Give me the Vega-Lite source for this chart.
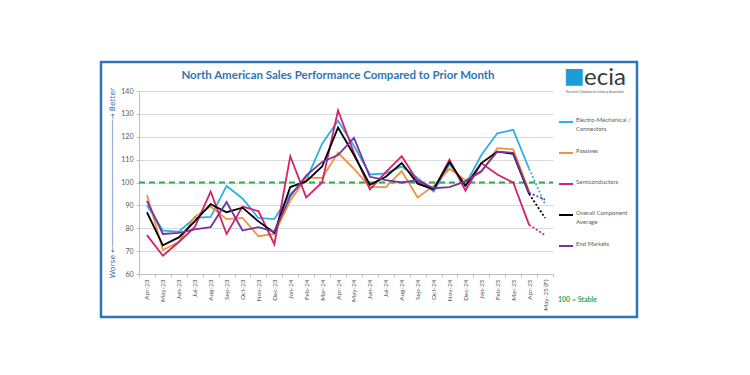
{
  "$schema": "https://vega.github.io/schema/vega-lite/v6.json",
  "width": 536,
  "height": 255,
  "autosize": "none",
  "padding": {"left": 101, "top": 62, "right": 113, "bottom": 58},
  "background": "white",
  "config": {
    "view": {"stroke": "#2E75B6", "strokeWidth": 2.5},
    "font": "Lato",
    "axis": {"labelOverlap": false},
    "style": {"guide-label": {"lineHeight": 9}}
  },
  "title": {
    "text": "North American Sales Performance Compared to Prior Month",
    "font": "Lato",
    "fontSize": 11.5,
    "fontWeight": "bold",
    "color": "#2E75B6",
    "anchor": "middle",
    "frame": "group",
    "offset": -19,
    "dx": -31
  },
  "datasets": {
    "actual": [
      {"month": "Apr-23", "Electro-Mechanical / Connectors": 90, "Passives": 94.5, "Semiconductors": 77, "Overall Component Average": 87, "End Markets": 92},
      {"month": "May-23", "Electro-Mechanical / Connectors": 79, "Passives": 70.5, "Semiconductors": 68, "Overall Component Average": 72.5, "End Markets": 77.5},
      {"month": "Jun-23", "Electro-Mechanical / Connectors": 78.5, "Passives": 74, "Semiconductors": 74, "Overall Component Average": 76, "End Markets": 78},
      {"month": "Jul-23", "Electro-Mechanical / Connectors": 84.5, "Passives": 85, "Semiconductors": 80.5, "Overall Component Average": 83, "End Markets": 79.5},
      {"month": "Aug-23", "Electro-Mechanical / Connectors": 85, "Passives": 89.5, "Semiconductors": 96, "Overall Component Average": 90.5, "End Markets": 80.5},
      {"month": "Sep-23", "Electro-Mechanical / Connectors": 98.5, "Passives": 84, "Semiconductors": 77.5, "Overall Component Average": 87, "End Markets": 91.5},
      {"month": "Oct-23", "Electro-Mechanical / Connectors": 93, "Passives": 84.5, "Semiconductors": 89.5, "Overall Component Average": 89, "End Markets": 79},
      {"month": "Nov-23", "Electro-Mechanical / Connectors": 84.5, "Passives": 76.5, "Semiconductors": 87.5, "Overall Component Average": 83, "End Markets": 80.5},
      {"month": "Dec-23", "Electro-Mechanical / Connectors": 84, "Passives": 77.5, "Semiconductors": 73, "Overall Component Average": 78, "End Markets": 78.5},
      {"month": "Jan-24", "Electro-Mechanical / Connectors": 95, "Passives": 92, "Semiconductors": 111.5, "Overall Component Average": 98, "End Markets": 94},
      {"month": "Feb-24", "Electro-Mechanical / Connectors": 101, "Passives": 102, "Semiconductors": 93.5, "Overall Component Average": 100.5, "End Markets": 103},
      {"month": "Mar-24", "Electro-Mechanical / Connectors": 117, "Passives": 102, "Semiconductors": 100, "Overall Component Average": 107, "End Markets": 109},
      {"month": "Apr-24", "Electro-Mechanical / Connectors": 127, "Passives": 113, "Semiconductors": 131.5, "Overall Component Average": 124, "End Markets": 112},
      {"month": "May-24", "Electro-Mechanical / Connectors": 116, "Passives": 106, "Semiconductors": 113, "Overall Component Average": 112, "End Markets": 119.5},
      {"month": "Jun-24", "Electro-Mechanical / Connectors": 103.5, "Passives": 98, "Semiconductors": 97, "Overall Component Average": 99, "End Markets": 102.5},
      {"month": "Jul-24", "Electro-Mechanical / Connectors": 104, "Passives": 98, "Semiconductors": 104.5, "Overall Component Average": 102.5, "End Markets": 101},
      {"month": "Aug-24", "Electro-Mechanical / Connectors": 107, "Passives": 105, "Semiconductors": 111.5, "Overall Component Average": 108.5, "End Markets": 100},
      {"month": "Sep-24", "Electro-Mechanical / Connectors": 102, "Passives": 93.5, "Semiconductors": 100.5, "Overall Component Average": 99.5, "End Markets": 101},
      {"month": "Oct-24", "Electro-Mechanical / Connectors": 96, "Passives": 98.5, "Semiconductors": 97, "Overall Component Average": 97, "End Markets": 97.5},
      {"month": "Nov-24", "Electro-Mechanical / Connectors": 108, "Passives": 106, "Semiconductors": 110, "Overall Component Average": 109, "End Markets": 98},
      {"month": "Dec-24", "Electro-Mechanical / Connectors": 99, "Passives": 101, "Semiconductors": 96.5, "Overall Component Average": 98.5, "End Markets": 100.5},
      {"month": "Jan-25", "Electro-Mechanical / Connectors": 112, "Passives": 104.5, "Semiconductors": 108.5, "Overall Component Average": 108.5, "End Markets": 105},
      {"month": "Feb-25", "Electro-Mechanical / Connectors": 121.5, "Passives": 115, "Semiconductors": 103.5, "Overall Component Average": 113.5, "End Markets": 113.5},
      {"month": "Mar-25", "Electro-Mechanical / Connectors": 123, "Passives": 114.5, "Semiconductors": 100, "Overall Component Average": 112.5, "End Markets": 113},
      {"month": "Apr-25", "Electro-Mechanical / Connectors": 106, "Passives": 96, "Semiconductors": 81.5, "Overall Component Average": 95, "End Markets": 95.5}
    ],
    "forecast": [
      {"month": "Apr-25", "Electro-Mechanical / Connectors": 106, "Semiconductors": 81.5, "Overall Component Average": 95, "End Markets": 95.5},
      {"month": "May-25 (F)", "Electro-Mechanical / Connectors": 90.5, "Semiconductors": 77, "Overall Component Average": 84.5, "End Markets": 92.5}
    ],
    "logo": [{"name": "ecia", "icon": "■", "tagline": "Electronic Components Industry Association", "anchorMonth": "May-25 (F)", "anchorValue": 140}]
  },
  "encoding": {
    "y": {
      "field": "value",
      "type": "quantitative",
      "scale": {"domain": [60, 140], "range": [212, 29], "nice": false, "zero": false},
      "axis": {
        "title": "Worse ←────────────────────────────→ Better",
        "values": [60, 70, 80, 90, 100, 110, 120, 130, 140],
        "offset": -38,
        "grid": true,
        "gridColor": "#D9D9D9",
        "domainColor": "#BFBFBF",
        "tickColor": "#BFBFBF",
        "tickSize": 3,
        "labelFontSize": 7,
        "labelColor": "#595959",
        "labelPadding": 3,
        "labelOverlap": false,
        "titleFont": "DejaVu Sans",
        "titleFontSize": 7.5,
        "titleFontWeight": "normal",
        "titleColor": "#2E75B6",
        "titlePadding": 4
      }
    }
  },
  "layer": [
    {
      "data": {"values": [{"value": 100}]},
      "mark": {"type": "rule", "color": "#2EAA4F", "strokeWidth": 2, "strokeDash": [6, 4]},
      "encoding": {
        "x": {"datum": "Apr-23", "bandPosition": 0, "type": "nominal"},
        "x2": {"datum": "May-25 (F)", "bandPosition": 1}
      }
    },
    {
      "data": {"name": "actual"},
      "transform": [
        {"fold": ["Electro-Mechanical / Connectors", "Passives", "Semiconductors", "Overall Component Average", "End Markets"], "as": ["series", "value"]}
      ],
      "mark": {"type": "line", "strokeJoin": "miter"},
      "encoding": {
        "x": {
          "field": "month",
          "type": "nominal",
          "bandPosition": 0.5,
          "sort": null,
          "scale": {
            "type": "band",
            "domain": ["Apr-23", "May-23", "Jun-23", "Jul-23", "Aug-23", "Sep-23", "Oct-23", "Nov-23", "Dec-23", "Jan-24", "Feb-24", "Mar-24", "Apr-24", "May-24", "Jun-24", "Jul-24", "Aug-24", "Sep-24", "Oct-24", "Nov-24", "Dec-24", "Jan-25", "Feb-25", "Mar-25", "Apr-25", "May-25 (F)"],
            "range": [38, 452],
            "paddingInner": 0,
            "paddingOuter": 0
          },
          "axis": {
            "title": null,
            "labelAngle": -90,
            "offset": -43,
            "tickBand": "extent",
            "domainColor": "#BFBFBF",
            "tickColor": "#BFBFBF",
            "tickSize": 3,
            "labelFontSize": 6.5,
            "labelColor": "#595959",
            "labelPadding": 2,
            "labelOverlap": false,
            "grid": false
          }
        },
        "color": {
          "field": "series",
          "type": "nominal",
          "scale": {
            "domain": ["Electro-Mechanical / Connectors", "Passives", "Semiconductors", "Overall Component Average", "End Markets"],
            "range": ["#2EB0E4", "#F0923C", "#D4226E", "#000000", "#7234A0"]
          },
          "legend": {
            "orient": "none",
            "legendX": 457,
            "legendY": 50,
            "direction": "vertical",
            "symbolType": "stroke",
            "symbolSize": 196,
            "symbolStrokeWidth": 2,
            "labelFontSize": 6,
            "labelColor": "#595959",
            "labelFont": "Lato",
            "labelOffset": 2,
            "labelLimit": 200,
            "labelBaseline": "alphabetic",
            "clipHeight": 20,
            "rowPadding": 11,
            "padding": 0,
            "title": "\u00a0\u00a0\u00a0\u00a0\u00a0100 = Stable",
            "titleOrient": "bottom",
            "titleColor": "#2EAA4F",
            "titleFont": "Lato",
            "titleFontSize": 7,
            "titleFontWeight": "bold",
            "titlePadding": 40,
            "titleAnchor": "start",
            "labelExpr": "datum.label == 'Electro-Mechanical / Connectors' ? ['Electro-Mechanical /', 'Connectors'] : datum.label == 'Overall Component Average' ? ['Overall Component', 'Average'] : datum.label"
          }
        },
        "strokeWidth": {
          "field": "series",
          "type": "nominal",
          "scale": {
            "domain": ["Electro-Mechanical / Connectors", "Passives", "Semiconductors", "Overall Component Average", "End Markets"],
            "range": [1.8, 1.8, 1.8, 2.8, 1.8]
          },
          "legend": null
        }
      }
    },
    {
      "data": {"name": "forecast"},
      "transform": [
        {"fold": ["Electro-Mechanical / Connectors", "Semiconductors", "Overall Component Average", "End Markets"], "as": ["series", "value"]}
      ],
      "mark": {"type": "line", "strokeDash": [2, 2]},
      "encoding": {
        "x": {"field": "month", "type": "nominal", "bandPosition": 0.5, "sort": null},
        "color": {"field": "series", "type": "nominal"},
        "strokeWidth": {"field": "series", "type": "nominal", "legend": null}
      }
    },
    {
      "data": {"name": "logo"},
      "mark": {"type": "text", "font": "DejaVu Sans", "fontSize": 22, "color": "#1E9BD7", "align": "center", "baseline": "middle", "dx": 29, "dy": -15},
      "encoding": {
        "x": {"field": "anchorMonth", "type": "nominal", "bandPosition": 0.5},
        "y": {"field": "anchorValue", "type": "quantitative"},
        "text": {"field": "icon"}
      }
    },
    {
      "data": {"name": "logo"},
      "mark": {"type": "text", "font": "Lato", "fontSize": 24, "color": "#3A3A3A", "align": "left", "baseline": "alphabetic", "dx": 39, "dy": -6},
      "encoding": {
        "x": {"field": "anchorMonth", "type": "nominal", "bandPosition": 0.5},
        "y": {"field": "anchorValue", "type": "quantitative"},
        "text": {"field": "name"}
      }
    },
    {
      "data": {"name": "logo"},
      "mark": {"type": "text", "font": "Lato", "fontSize": 3, "color": "#595959", "align": "left", "baseline": "middle", "dx": 21, "dy": 0.5},
      "encoding": {
        "x": {"field": "anchorMonth", "type": "nominal", "bandPosition": 0.5},
        "y": {"field": "anchorValue", "type": "quantitative"},
        "text": {"field": "tagline"}
      }
    }
  ]
}
